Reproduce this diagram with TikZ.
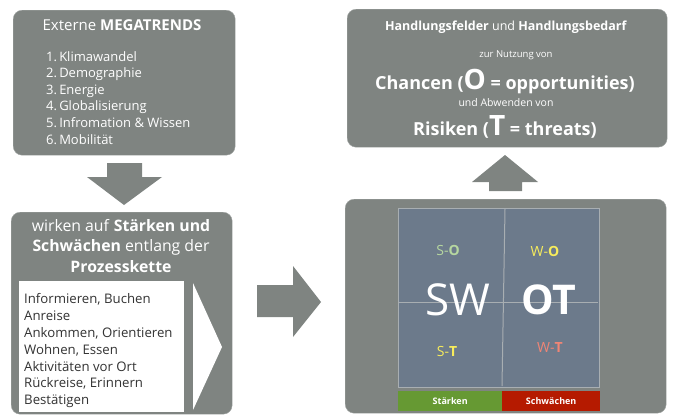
\documentclass[tikz,border=0pt]{standalone}
\usepackage{fontspec}
\setmainfont{Open Sans}
\usepackage{tikz}
\definecolor{boxgray}{HTML}{7F8481}
\definecolor{boxedge}{HTML}{A3A7A5}
\definecolor{swotblue}{HTML}{6C7A8B}
\definecolor{gridline}{HTML}{A8AEB2}
\definecolor{strgreen}{HTML}{669933}
\definecolor{weakred}{HTML}{B51A00}
\definecolor{solight}{HTML}{B6D7A0}
\definecolor{opyellow}{HTML}{F7EC5C}
\definecolor{wtsalmon}{HTML}{F08575}
\definecolor{listtext}{HTML}{333333}
\tikzset{
  >=latex,
}
\tikzstyle{panel}=[fill=boxgray,draw=boxedge,rounded corners=9pt,inner sep=0pt,anchor=north west]
\tikzstyle{blockarrow}=[fill=boxgray]
\tikzstyle{label}=[text=white,inner sep=0pt]
\tikzstyle{pair}=[inner sep=0pt,font=\fontsize{14}{16}\selectfont]
\tikzstyle{bar}=[minimum height=20,inner sep=0pt,anchor=north west,text=white,font=\fontsize{9}{10}\selectfont\bfseries]

\begin{document}
\begin{tikzpicture}[x=1pt,y=-1pt]
\useasboundingbox (0,0) rectangle (680,415);
\node[panel,minimum width=222,minimum height=145] (trends) at (13,10) {};
\node[panel,minimum width=221,minimum height=202] (chain) at (11,212) {};
\node[panel,minimum width=320,minimum height=138] (action) at (347,9) {};
\node[panel,minimum width=321,minimum height=214] (swot) at (345,199) {};

\node[label,font=\fontsize{15}{17}\selectfont] (trendhead) at (122,25) {Externe \textbf{MEGATRENDS}};
\node[label,align=left,anchor=north west,font=\fontsize{13}{16.6}\selectfont] (trendlist) at (46,51)
  {1.\,Klimawandel\\2.\,Demographie\\3.\,Energie\\4.\,Globalisierung\\5.\,Infromation \& Wissen\\6.\,Mobilität};
\fill[blockarrow] (107,163) -- (142,163) -- (142,177) -- (162,177) -- (124,205) -- (87,177) -- (107,177) -- cycle;

\node[label,align=center,anchor=north,font=\fontsize{15.8}{20.7}\selectfont] (chainhead) at (121,219)
  {wirken auf \textbf{Stärken und}\\\textbf{Schwächen} entlang der\\\textbf{Prozesskette}};
\node[fill=white,minimum width=165,minimum height=131,inner sep=0pt,anchor=north west] (steps) at (19,281) {};
\node[text=listtext,align=left,anchor=north west,inner sep=0pt,font=\fontsize{13.2}{16.8}\selectfont] (steplist) at (24,293.5)
  {Informieren, Buchen\\Anreise\\Ankommen, Orientieren\\Wohnen, Essen\\Aktivitäten vor Ort\\Rückreise, Erinnern\\Bestätigen};
\fill[white] (193,283) -- (222,347) -- (193,410) -- cycle;

\fill[blockarrow] (257,285) -- (293,285) -- (293,266) -- (321,302) -- (293,337) -- (293,317) -- (257,317) -- cycle;

\node[fill=swotblue,draw=gridline,line width=1pt,minimum width=201,minimum height=179,inner sep=0pt,anchor=north west] (grid) at (398,208) {};
\draw[gridline,line width=1pt] (505,209) -- (502,386);
\draw[gridline,line width=1pt] (399,302) -- (598,302);
\node[pair,text=solight] (so) at (448,250) {S-\textbf{O}};
\node[pair,text=opyellow] (wo) at (545,251) {W-\textbf{O}};
\node[pair,text=opyellow] (st) at (447,351) {S-\textbf{T}};
\node[pair,text=wtsalmon] (wt) at (550,347) {W-\textbf{T}};
\node[label,font=\fontsize{44}{44}\selectfont] (sw) at (458,300) {SW};
\node[label,font=\fontsize{41}{41}\selectfont\bfseries] (ot) at (549,300) {OT};
\node[bar,fill=strgreen,minimum width=104] (strength) at (398,391) {Stärken};
\node[bar,fill=weakred,minimum width=98] (weakness) at (502,391) {Schwächen};

\fill[blockarrow] (489,191) -- (522,191) -- (522,182) -- (538,182) -- (505,155) -- (472,182) -- (489,182) -- cycle;

\node[label,font=\fontsize{12.5}{14}\selectfont] (fields) at (506,27) {\textbf{Handlungsfelder} und \textbf{Handlungsbedarf}};
\node[label,font=\fontsize{9.5}{11}\selectfont] (use) at (516,55) {zur Nutzung von};
\node[label,font=\fontsize{18}{20}\selectfont\bfseries] (chances) at (505,82) {Chancen ({\fontsize{28}{28}\selectfont O} = opportunities)};
\node[label,font=\fontsize{10.5}{12}\selectfont] (avert) at (506,103) {und Abwenden von};
\node[label,font=\fontsize{18}{20}\selectfont\bfseries] (risks) at (505,127) {Risiken ({\fontsize{28}{28}\selectfont T} = threats)};
\end{tikzpicture}
\end{document}
